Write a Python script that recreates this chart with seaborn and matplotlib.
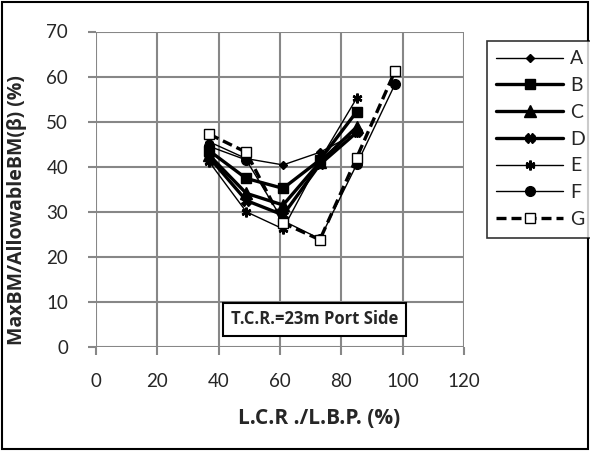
import matplotlib
matplotlib.use("Agg")
import matplotlib.pyplot as plt
import seaborn as sns
import pandas as pd
from matplotlib.patches import Rectangle

sns.set_theme(style="white")
plt.rcParams['font.family'] = ['Lato', 'DejaVu Sans']

x5 = [37, 49, 61, 73, 85]
x6 = [37, 49, 61, 73, 85, 97.5]
A = [45.5, 41.8, 40.4, 43.2, 47.5]
B = [43.5, 37.4, 35.2, 41.5, 52.2]
C = [42.5, 34.1, 31.5, 41.0, 48.8]
D = [42.0, 32.5, 29.3, 40.5, 47.6]
E = [41.0, 30.0, 26.2, 41.5, 55.2]
F = [44.5, 41.5, 28.0, 24.0, 40.5, 58.3]
G = [47.2, 43.2, 27.5, 23.8, 42.0, 61.2]

series = [
    ("A", x5, A, dict(marker="D", ms=4, lw=1.0, ls="-", mfc="black")),
    ("B", x5, B, dict(marker="s", ms=7, lw=2.4, ls="-", mfc="black")),
    ("C", x5, C, dict(marker="^", ms=8, lw=2.4, ls="-", mfc="black")),
    ("D", x5, D, dict(marker="X", ms=7, lw=2.4, ls="-", mfc="black")),
    ("E", x5, E, dict(marker=(6, 2, 0), ms=7, lw=1.0, ls="-", mfc="black", mew=1.8)),
    ("F", x6, F, dict(marker="o", ms=7, lw=1.0, ls="-", mfc="black")),
    ("G", x6, G, dict(marker="s", ms=7, lw=2.4, ls=(0, (3, 1.5)), mfc="white")),
]

fig = plt.figure(figsize=(5.9, 4.51), dpi=100)
ax = fig.add_axes([96/590, 1-347/451, (464-96)/590, (347-31.5)/451])

for name, xs, ys, st in series:
    df = pd.DataFrame({"x": xs, "y": ys})
    sns.lineplot(data=df, x="x", y="y", ax=ax, color="black", label=name,
                 marker=st["marker"], markersize=st["ms"], linewidth=st["lw"],
                 linestyle=st["ls"], markerfacecolor=st["mfc"],
                 markeredgecolor="black", markeredgewidth=st.get("mew", 1.0),
                 legend=False)

ax.set_xlim(0, 120)
ax.set_ylim(0, 70)
ax.set_xticks(range(0, 121, 20))
ax.set_yticks(range(0, 71, 10))
ax.grid(True, color="#878787", linewidth=1.5)
for s in ax.spines.values():
    s.set_visible(False)
ax.tick_params(axis="both", which="both", length=6, width=1.5, color="#878787",
               labelsize=13.5, direction="out", left=True, bottom=True)
ax.tick_params(axis="x", pad=13)
ax.tick_params(axis="y", pad=14)
ax.set_axisbelow(True)

bold = ['Open Sans', 'DejaVu Sans']
ax.set_xlabel("L.C.R ./L.B.P. (%)", fontsize=15, fontweight="bold", family=bold)
ax.set_ylabel("MaxBM/AllowableBM(β) (%)", fontsize=14, fontweight="bold", family=bold)
ax.xaxis.set_label_coords((319.5 - 96) / 368, (347 - 418) / 315.5)
ax.xaxis.label.set_va("center")
ax.yaxis.set_label_coords((17 - 96) / 368, (347 - 210) / 315.5)
ax.yaxis.label.set_va("center")

ax.text(71.3, 6.2, "T.C.R.=23m Port Side", fontsize=12, fontweight="bold", family=bold,
        ha="center", va="center",
        bbox=dict(boxstyle="square,pad=0.45", fc="white", ec="black", lw=1.5))

handles, labels = ax.get_legend_handles_labels()
leg = fig.legend(handles, labels, loc="upper left", bbox_to_anchor=(477/590, 1-31/451),
                 frameon=True, fontsize=14, handlelength=3.4, labelspacing=0.5,
                 borderpad=0.5, handletextpad=0.4, fancybox=False)
leg.get_frame().set_edgecolor("black")
leg.get_frame().set_linewidth(1.2)

fig.patches.append(Rectangle((0.003, 0.004), 0.994, 0.992, transform=fig.transFigure,
                             fill=False, ec="black", lw=1.5))

fig.savefig("out.png", dpi=100)
